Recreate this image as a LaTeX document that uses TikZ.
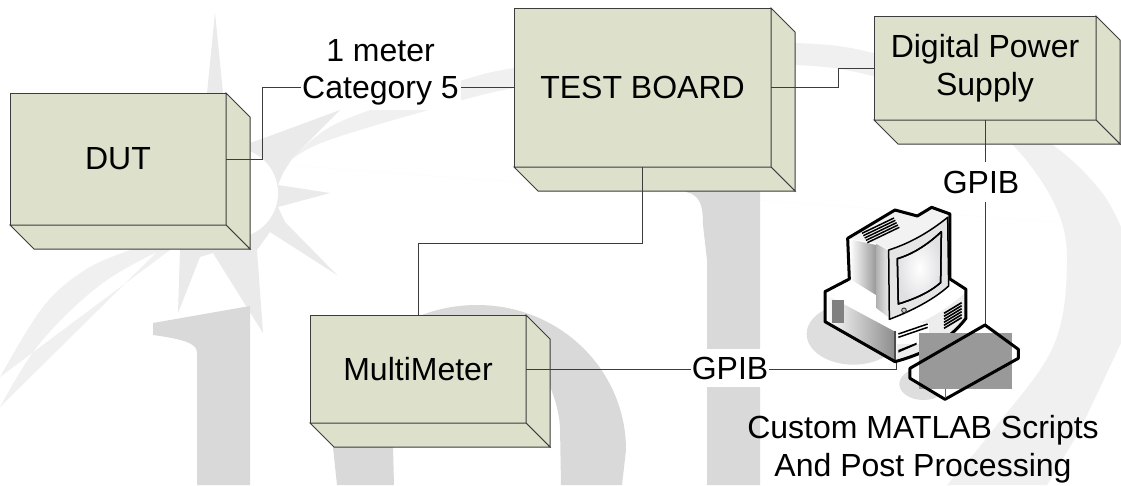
\documentclass[tikz,border=0pt]{standalone}
\usepackage{fontspec}
\setmainfont{Liberation Sans}
\definecolor{boxfill}{HTML}{DDE0CA}
\definecolor{boxline}{HTML}{3C3C3C}
\definecolor{markdark}{HTML}{D9D9D9}
\definecolor{markstar}{HTML}{EAEAEA}
\definecolor{markband}{HTML}{F0F0F0}
\tikzset{
  frontface/.style={draw=boxline,fill=boxfill,line width=1pt,inner sep=0pt,outer sep=0pt,align=center,
    font=\fontsize{32}{37.5}\selectfont},
  sideface/.style={draw=boxline,fill=boxfill,line width=1pt,line join=miter},
  wire/.style={draw=boxline,line width=1pt},
  wirelabel/.style={fill=white,inner sep=0pt,outer sep=0pt,align=center,font=\fontsize{32}{37.5}\selectfont},
  plainlabel/.style={inner sep=0pt,outer sep=0pt,align=center,font=\fontsize{32}{38.5}\selectfont},
  pcline/.style={draw=black,line width=3pt,line join=round},
  pcthin/.style={draw=black,line width=1.5pt,line join=round},
}
\newcommand{\solidbox}[6]{%
  \node[frontface,minimum width={(#4-#2)*1pt},minimum height={(#5-#3)*1pt}] (#1) at ({(#2+#4)/2},{(#3+#5)/2}) {#6};
  \draw[sideface] (#1.north east) -- ++(24,24) -- ++(0,{#5-#3}) -- (#1.south east) -- cycle;
  \draw[sideface] (#1.south west) -- ++(24,24) -- ++({#4-#2},0) -- (#1.south east) -- cycle;
}
\begin{document}
\begin{tikzpicture}[x=1pt,y=-1pt]
\useasboundingbox (0,0) rectangle (1121,485);
\clip (0,0) rectangle (1121,485);
\fill[white] (0,0) rectangle (1121,485);
% watermark
\fill[markband] plot[smooth,tension=0.6] coordinates {(285,165) (321,143) (418,113) (514,88) (660,68) (795,65) (873,76) (960,105) (1013,145) (1055,205) (1067,263) (1053,347) (993,430) (947,485)}
  -- (1047,485) -- (1080,430) -- (1121,343) -- (1125,290) -- (1121,227)
  plot[smooth,tension=0.6] coordinates {(1121,227) (1100,190) (1053,145) (960,85) (873,53) (795,43) (660,45) (514,68) (470,78) (400,100) (330,127) (285,165)} -- cycle;
\fill[markband] plot[smooth,tension=0.6] coordinates {(0,377) (43,307) (85,270) (130,250) (160,240)} -- (170,250)
  plot[smooth,tension=0.6] coordinates {(157,252) (100,285) (40,343) (0,407)} -- cycle;
\fill[markstar] (215,13) -- (223,93) -- (240,150) -- (250,143) -- (267,137) -- (340,110) -- (293,157) -- (283,173) -- (278,185) -- (330,193)
  -- (278,207) -- (285,222) -- (337,275) -- (270,232) -- (257,250) -- (263,333) -- (213,253) -- (200,257) -- (178,313) -- (180,250) -- (180,150) -- (207,93) -- cycle;
\fill[white] (233,193) circle[radius=45];
\fill[markdark] (153,323) -- (250,306) -- (250,485) -- (197,485) -- (197,353) .. controls (197,345) and (190,340) .. (153,335) -- cycle;
\fill[markdark,even odd rule] (337,485) -- (333,447) .. controls (333,360) and (400,305) .. (477,305) .. controls (560,305) and (626,370) .. (626,450) -- (622,485) -- (561,485) -- (560,427) .. controls (558,390) and (530,330) .. (477,325) .. controls (430,330) and (393,390) .. (393,447) -- (394,485) -- cycle;
\fill[markdark] (686,192) .. controls (700,195) and (703,205) .. (703,225) -- (707,260) -- (707,485) -- (760,485) -- (760,180) -- (680,180) -- cycle;
% boxes
\solidbox{dut}{10}{93}{226}{225}{DUT}
\solidbox{test}{514}{8}{771}{167}{TEST BOARD}
\solidbox{power}{874}{16}{1096}{120}{Digital Power\\Supply}
\solidbox{meter}{310}{315}{526}{423}{MultiMeter}
% connector ends on the computer
\coordinate (pcport) at (896,360);
\coordinate (kbtop) at (985,324);
% connectors
\draw[wire] (dut.east) -- ++(36,0) |- (test.west);
\draw[wire] (test.east) -- ++(67,0) |- (power.west);
\draw[wire] (test.south) -- ++(0,76) -| (meter.north);
\draw[wire] (meter.east) -| (pcport);
\draw[wire] (power.south) -- (kbtop);
% labels on connectors
\node[wirelabel,minimum width=160pt,minimum height=75pt] (cat) at (380.5,72.5) {1 meter\\Category 5};
\node[wirelabel,minimum width=78pt,minimum height=38pt] (gpiba) at (730,368) {GPIB};
\node[wirelabel,minimum width=80pt,minimum height=40pt] (gpibb) at (981,182) {GPIB};
\node[plainlabel] (scripts) at (923,449) {Custom MATLAB Scripts\\And Post Processing};
% computer
\begin{scope}[shift={(780,180)},x=0.3333pt,y=-0.3333pt]
  \fill[black!13] (220,462) ellipse[x radius=140,y radius=92];
  \fill[black!13] (430,612) ellipse[x radius=72,y radius=48];
  % silhouette
  \fill[white] (135,335) -- (208,297) -- (203,175) -- (345,90) -- (412,108) -- (455,82) -- (510,102) -- (510,297) -- (558,328) -- (558,415) .. controls (500,490) and (420,525) .. (345,545) -- (135,425) -- cycle;
  % base faces
  \shade[left color=white,right color=black!45] (140,345) -- (345,455) -- (345,545) -- (137,425) -- cycle;
  \fill[black!7] (350,455) .. controls (430,430) and (500,390) .. (555,338) -- (555,412) .. controls (500,490) and (420,525) .. (350,542) -- cycle;
  \fill[black!50] (156,360) rectangle (192,428);
  \fill[white] (352,430) rectangle (447,492);
  \draw[pcthin] (355,462) -- (443,432);
  \draw[pcthin] (355,472) -- (443,442);
  \fill[black] (355,510) -- (410,488) -- (410,494) -- (355,518) -- cycle;
  \draw[line width=1.6pt,black!70] (345,452) -- (345,545);
  \foreach \k in {0,1,2,3,4,5}{\draw[line width=1.6pt,black] (492,{400+\k*9}) -- (545,{368+\k*9});}
  % monitor sides
  \shade[left color=white,right color=black!40] (210,178) -- (288,195) -- (288,345) -- (210,297) -- cycle;
  \shade[left color=black!30,right color=black!8] (290,192) -- (326,212) -- (326,412) -- (290,385) -- cycle;
  % monitor top
  \fill[black!5] (208,175) -- (345,92) -- (412,110) -- (455,85) -- (506,104) .. controls (450,155) and (390,190) .. (326,208) -- (288,190) -- cycle;
  \foreach \k in {0,1,2,3,4}{\draw[line width=1.5pt,black] ({246+\k*4},{160+\k*7}) -- ({342+\k*4},{114+\k*7});}
  % monitor front
  \filldraw[pcthin,fill=black!10] (326,210) .. controls (390,190) and (450,155) .. (503,112) -- (506,318) .. controls (460,360) and (390,395) .. (328,418) -- cycle;
  \shade[pcthin,inner color=white,outer color=blue!10!black!12] (352,236) .. controls (400,222) and (445,192) .. (484,155) -- (482,308) .. controls (445,340) and (400,358) .. (355,372) -- cycle;
  \draw[pcthin] (352,236) .. controls (400,222) and (445,192) .. (484,155) -- (482,308) .. controls (445,340) and (400,358) .. (355,372) -- cycle;
  \filldraw[line width=0.9pt,draw=black!80,fill=green!25!black!25] (372,391) circle[radius=7];
  % outline
  \draw[pcline] (135,335) -- (208,297) -- (203,175) -- (345,90) -- (412,108) -- (455,82) -- (510,102) -- (510,297) -- (558,328) -- (558,415) .. controls (500,490) and (420,525) .. (345,545) -- (135,425) -- cycle;
  % keyboard
  \fill[white] (615,435) -- (715,505) -- (715,535) -- (495,658) -- (390,595) -- (390,565) -- cycle;
  \fill[black!40] (418,459) rectangle (696,627);
  \draw[pcline] (615,435) -- (715,508) -- (715,535) -- (495,658) -- (390,595) -- (390,565) -- cycle;
  \draw[line width=0.8pt,black!60] (495,655) -- (495,628);
\end{scope}
\end{tikzpicture}
\end{document}
